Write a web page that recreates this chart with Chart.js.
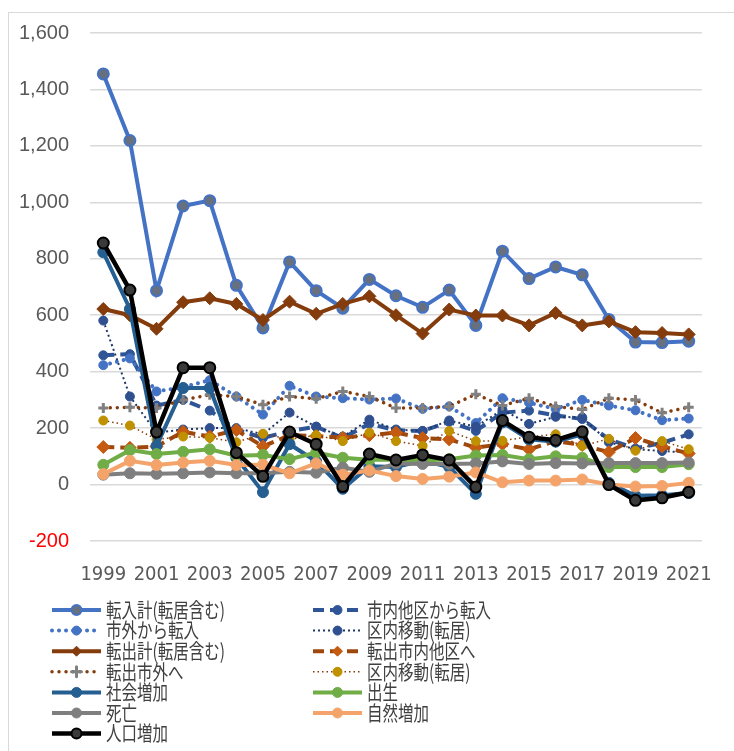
<!DOCTYPE html>
<html lang="ja">
<head>
<meta charset="utf-8">
<title>人口動態の推移</title>
<script src="https://cdn.jsdelivr.net/npm/chart.js@4.4.1/dist/chart.umd.min.js"></script>
<style>
  html, body { margin: 0; padding: 0; background: #fff; }
  #wrap { position: relative; width: 734px; height: 751px; overflow: hidden; }
  #frame { position: absolute; left: 8px; top: 12px; width: 760px; height: 780px; border: 1px solid #d9d9d9; }
  #chart { position: absolute; left: 0; top: 0; }
</style>
</head>
<body>
<div id="wrap">
  <div id="frame"></div>
  <canvas id="chart" width="734" height="751"></canvas>
</div>
<script>
// years on the x axis
const years = ['1999','2000','2001','2002','2003','2004','2005','2006','2007','2008','2009','2010',
               '2011','2012','2013','2014','2015','2016','2017','2018','2019','2020','2021'];

// series
const tennyuKei      = [1455,1219,687,987,1006,706,555,789,687,625,727,669,628,689,564,827,730,771,743,585,505,503,508];
const shinaiTakuIn   = [458,462,280,300,262,195,165,190,205,165,215,192,190,222,190,255,262,245,232,160,128,148,178];
const shigaiIn       = [423,447,330,345,370,312,248,350,312,306,301,305,268,277,218,306,290,268,300,280,263,228,234];
const kunaiIdo1      = [581,312,184,195,200,200,178,255,205,170,230,195,190,227,205,265,215,240,238,150,125,119,113];
const tenshutsuKei   = [622,600,552,646,660,640,583,648,605,640,667,600,535,620,599,599,564,608,564,578,540,537,532];
const shinaiTakuOut  = [133,130,135,187,170,193,135,175,172,166,175,184,165,160,131,143,125,154,140,115,165,135,110];
const shigaiOut      = [271,274,271,300,318,312,283,312,304,330,312,271,271,277,320,280,306,277,266,306,300,254,274];
const kunaiIdo2      = [227,209,160,170,166,150,180,160,175,154,184,154,137,190,154,155,170,178,137,162,120,154,125];
const shakaiZouka    = [823,622,137,342,342,95,-27,143,82,-15,65,62,85,62,-33,220,160,152,178,6,-40,-38,-30];
const shussei        = [70,122,108,116,125,102,105,90,113,95,88,88,85,90,103,105,90,100,95,62,62,62,72];
const shibou         = [35,40,38,40,43,40,40,45,42,60,45,75,73,73,75,82,73,76,75,76,76,76,78];
const shizenZouka    = [37,84,69,78,84,69,70,40,75,35,50,30,20,28,43,8,14,14,18,0,-7,-5,6];
const jinkouZouka    = [856,689,186,414,414,113,29,186,143,-7,108,87,105,87,-9,227,168,157,187,0,-56,-47,-27];

const yMin = -200, yMax = 1600, yStep = 200;

function line(label, data, color, width, extra) {
  return Object.assign({
    label: label,
    data: data,
    borderColor: color,
    backgroundColor: color,
    borderWidth: width,
    pointStyle: 'circle',
    pointRadius: 4.5,
    pointBackgroundColor: color,
    pointBorderColor: color,
    pointBorderWidth: 1,
    tension: 0,
    fill: false
  }, extra || {});
}

const DOT = [0.01, 7];

const datasets = [
  line('転入計(転居含む)', tennyuKei, '#4472C4', 4, { pointRadius: 5.5, pointBackgroundColor: '#66707f', pointBorderColor: '#4472C4', pointBorderWidth: 2 }),
  line('市内他区から転入', shinaiTakuIn, '#2F5597', 4, { borderDash: [11, 6] }),
  line('市外から転入', shigaiIn, '#4472C4', 4, { borderDash: DOT, borderCapStyle: 'round' }),
  line('区内移動(転居)', kunaiIdo1, '#1F3864', 2, { borderDash: [2, 3], pointBackgroundColor: '#2F4F8F', pointBorderColor: '#2F4F8F' }),
  line('転出計(転居含む)', tenshutsuKei, '#843C0C', 4, { pointStyle: 'rectRot', pointRadius: 6.5 }),
  line('転出市内他区へ', shinaiTakuOut, '#9E480E', 4, { borderDash: [11, 6], pointStyle: 'rectRot', pointRadius: 6.5, pointBackgroundColor: '#C55A11', pointBorderColor: '#C55A11' }),
  line('転出市外へ', shigaiOut, '#843C0C', 3.5, { borderDash: DOT, borderCapStyle: 'round', pointStyle: 'cross', pointRadius: 5, pointBorderWidth: 3, pointBackgroundColor: '#808080', pointBorderColor: '#808080' }),
  line('区内移動(転居)', kunaiIdo2, '#843C0C', 1.5, { borderDash: [1.5, 3], pointBackgroundColor: '#BF9000', pointBorderColor: '#BF9000' }),
  line('社会増加', shakaiZouka, '#255E91', 4, { pointRadius: 5.5 }),
  line('出生', shussei, '#70AD47', 4, { pointRadius: 5.5 }),
  line('死亡', shibou, '#7F7F7F', 4, { pointRadius: 5.5 }),
  line('自然増加', shizenZouka, '#F4A46A', 4, { pointRadius: 5.5 }),
  line('人口増加', jinkouZouka, '#000000', 4.5, { pointRadius: 5.5, pointBackgroundColor: '#3a3a3a', pointBorderColor: '#000000', pointBorderWidth: 2 })
];
// later series sit on top, like the original
datasets.forEach((d, i) => { d.order = datasets.length - i; });

// two-column legend under the plot
const columnLegend = {
  id: 'columnLegend',
  afterDraw(chart) {
    const ctx = chart.ctx;
    chart.data.datasets.forEach((ds, i) => {
      const col = i % 2, row = Math.floor(i / 2);
      const x0 = col === 0 ? 52 : 313;
      const x1 = x0 + 49;
      const y = 610 + row * 20.6;
      ctx.save();
      ctx.strokeStyle = ds.borderColor;
      ctx.lineWidth = ds.borderWidth;
      ctx.lineCap = ds.borderCapStyle || 'butt';
      ctx.setLineDash(ds.borderDash || []);
      ctx.beginPath();
      ctx.moveTo(x0, y);
      ctx.lineTo(x1, y);
      ctx.stroke();
      ctx.setLineDash([]);
      ctx.fillStyle = ds.pointBackgroundColor;
      ctx.strokeStyle = ds.pointBorderColor;
      ctx.lineWidth = ds.pointBorderWidth;
      Chart.helpers.drawPoint(ctx, {
        pointStyle: ds.pointStyle, rotation: 0,
        radius: Math.min(ds.pointRadius, 5), borderWidth: ds.pointBorderWidth
      }, (x0 + x1) / 2, y);
      ctx.restore();

      ctx.save();
      ctx.translate(x1 + 5, y);
      ctx.scale(1, 1.33);
      ctx.font = '15.5px "Noto Sans CJK JP", sans-serif';
      ctx.textBaseline = 'middle';
      ctx.fillStyle = '#404040';
      ctx.fillText(ds.label, 0, 0);
      ctx.restore();
    });
  }
};

new Chart(document.getElementById('chart').getContext('2d'), {
  type: 'line',
  data: { labels: years, datasets: datasets },
  options: {
    responsive: false,
    animation: false,
    layout: { padding: { left: 0, right: 19, top: 26, bottom: 160 } },
    plugins: {
      legend: { display: false },
      tooltip: { enabled: false }
    },
    scales: {
      x: {
        offset: true,
        grid: { display: false, drawTicks: false },
        border: { display: false },
        afterFit(scale) { scale.height = 50; },
        ticks: {
          autoSkip: false,
          maxRotation: 0,
          minRotation: 0,
          padding: 22,
          color: '#595959',
          font: { family: '"Liberation Sans Narrow", "DejaVu Sans Condensed", "Liberation Sans", sans-serif', size: 20 },
          callback: (v, i) => (i % 2 === 0 ? years[i] : '')
        }
      },
      y: {
        min: yMin,
        max: yMax,
        afterFit(scale) { scale.width = 90; },
        grid: { color: '#d9d9d9', lineWidth: 1.5, drawTicks: false },
        border: { display: false },
        ticks: {
          stepSize: yStep,
          padding: 21,
          color: ctx => (ctx.tick && ctx.tick.value < 0 ? '#FF0000' : '#595959'),
          font: { family: '"Liberation Sans", sans-serif', size: 20 }
        }
      }
    }
  },
  plugins: [columnLegend]
});
</script>
</body>
</html>
